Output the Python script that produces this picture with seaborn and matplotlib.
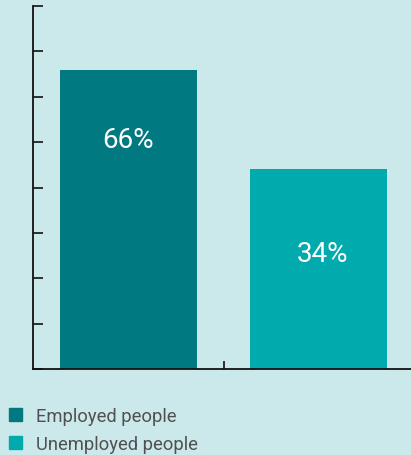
import matplotlib
matplotlib.use("Agg")
import matplotlib.pyplot as plt
import matplotlib.patches as mpatches
import pandas as pd
import seaborn as sns

# data
categories = ["Employed people", "Unemployed people"]
bar_heights = [66, 44]
bar_labels = ["66%", "34%"]
label_heights = [50.5, 25.5]
colors = ["#007a80", "#00aaad"]

bg = "#cbe8ea"

sns.set_theme(style="white", rc={
    "axes.facecolor": bg,
    "figure.facecolor": bg,
})
plt.rcParams["font.family"] = ["Roboto", "DejaVu Sans"]

df = pd.DataFrame({"group": categories, "value": bar_heights})

fig = plt.figure(figsize=(4.11, 4.56), dpi=100)
ax = fig.add_axes([33 / 411, 86 / 456, 1 - 33 / 411, 363 / 456])

sns.barplot(data=df, x="group", y="value", hue="group",
            palette=dict(zip(categories, colors)), width=0.72,
            saturation=1, legend=False, linewidth=0, ax=ax)

for i, (txt, h) in enumerate(zip(bar_labels, label_heights)):
    ax.text(i + (0.02 if i else 0), h, txt, ha="center", va="center",
            color="white", fontsize=20, family=["Roboto", "DejaVu Sans"])

ax.set_ylim(0, 80)
ax.set_xlim(-0.503, 1.487)
ax.set_yticks(range(0, 81, 10))
ax.set_yticklabels([])
ax.set_xticks([0.5])
ax.set_xticklabels([])
ax.set_xlabel("")
ax.set_ylabel("")
ax.tick_params(axis="y", direction="in", length=7.2, width=1.2, color="#111111", left=True)
ax.tick_params(axis="x", direction="in", length=5.8, width=1.2, color="#111111", bottom=True)
sns.despine(ax=ax, top=True, right=True)
for side in ["left", "bottom"]:
    ax.spines[side].set_color("#111111")
    ax.spines[side].set_linewidth(1.3)

handles = [mpatches.Patch(color=c, label=l) for c, l in zip(colors, categories)]
fig.legend(handles=handles, loc="upper left", bbox_to_anchor=(10 / 411 - 0.002, 1 - 408 / 456),
           frameon=False, fontsize=13.2, handlelength=0.72, handleheight=0.72,
           handletextpad=0.72, labelspacing=0.55, borderpad=0, borderaxespad=0,
           labelcolor="#505050")

fig.savefig("out.png", dpi=100, facecolor=bg)
